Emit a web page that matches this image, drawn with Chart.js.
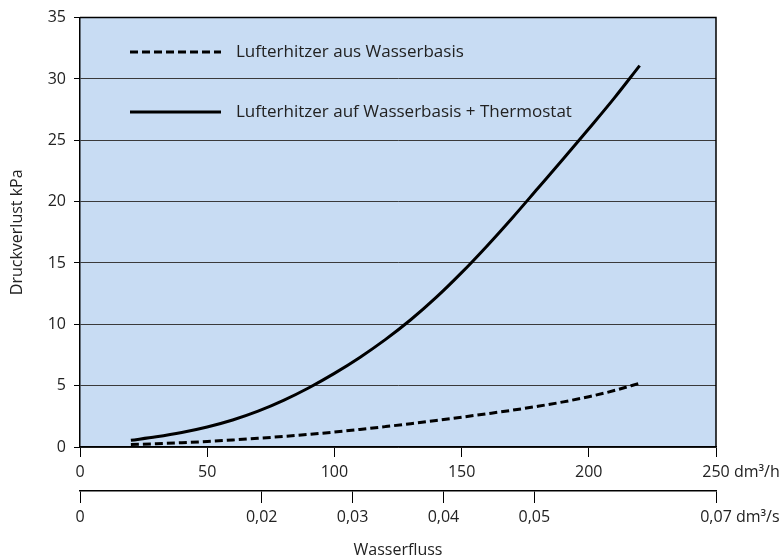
<!DOCTYPE html>
<html><head><meta charset="utf-8">
<script src="https://cdn.jsdelivr.net/npm/chart.js@4/dist/chart.umd.min.js"></script>
<style>html,body{margin:0;padding:0;background:#fff}</style>
</head><body>
<canvas id="c" width="780" height="560"></canvas>
<script>
// Wasserfluss in dm³/h
const flowValues = [20,30,40,50,60,70,80,90,100,110,120,130,140,150,160,170,180,190,200,210,220];
// Druckverlust kPa
const lossPlain = [0.2,0.27,0.35,0.45,0.57,0.71,0.86,1.03,1.22,1.43,1.66,1.9,2.16,2.43,2.71,3.0,3.32,3.68,4.1,4.6,5.2];
const lossThermostat = [0.55,0.83,1.18,1.63,2.2,2.92,3.8,4.83,6.0,7.3,8.75,10.37,12.19,14.21,16.39,18.69,21.09,23.49,25.94,28.44,31.09];
const seriesLabels = ['Lufterhitzer aus Wasserbasis','Lufterhitzer auf Wasserbasis + Thermostat'];
const flowTicksH = [0,50,100,150,200,250];
const flowTicksS = [0,0.02,0.03,0.04,0.05,0.07];
const pressureTicks = [0,5,10,15,20,25,30,35];
const unitH = 'dm³/h';
const unitS = 'dm³/s';
const yTitle = 'Druckverlust kPa';
const xTitle = 'Wasserfluss';

const FONT = 'Open Sans';
const TXT = '#222';
const FS = 16;
const tickFont = {family: FONT, size: FS};

const pts = arr => flowValues.map((x,i)=>({x, y: arr[i]}));
function fmtS(v){ return v === 0 ? '0' : v.toFixed(2).replace('.', ','); }

const bgPlugin = {
  id: 'bg',
  beforeDraw(chart){
    const {ctx, chartArea:a} = chart;
    ctx.save(); ctx.fillStyle = '#c8dcf3';
    ctx.fillRect(a.left, a.top, a.right-a.left, a.bottom-a.top);
    ctx.restore();
  },
  afterDraw(chart){
    const {ctx, chartArea:a} = chart;
    ctx.save();
    ctx.strokeStyle = '#000'; ctx.lineWidth = 1.5;
    ctx.beginPath();
    ctx.moveTo(a.left, a.top); ctx.lineTo(a.right, a.top); ctx.lineTo(a.right, a.bottom);
    ctx.stroke();
    // legend inside plot
    const rows = [52, 112];
    chart.data.datasets.forEach((ds,i)=>{
      const y = rows[i];
      ctx.strokeStyle = ds.borderColor; ctx.lineWidth = ds.borderWidth;
      ctx.setLineDash(ds.borderDash || []);
      ctx.beginPath(); ctx.moveTo(130, y); ctx.lineTo(221, y); ctx.stroke();
      ctx.setLineDash([]);
      ctx.fillStyle = TXT; ctx.font = '17px "' + FONT + '"';
      ctx.textBaseline = 'middle'; ctx.textAlign = 'left';
      ctx.fillText(ds.label, 236, y);
    });
    // units after last tick labels
    ctx.font = FS + 'px "' + FONT + '"';
    ctx.textBaseline = 'middle'; ctx.textAlign = 'left';
    ctx.fillStyle = TXT;
    const sx = chart.scales.x, s2 = chart.scales.x2;
    const lh = FS*1.2;
    const lastH = String(flowTicksH[flowTicksH.length-1]);
    let px = sx.getPixelForValue(flowTicksH[flowTicksH.length-1]) + ctx.measureText(lastH).width/2;
    ctx.fillText(' ' + unitH, px, sx.top + 10 + 6 + lh/2);
    const lastS = fmtS(flowTicksS[flowTicksS.length-1]);
    px = s2.getPixelForValue(flowTicksS[flowTicksS.length-1]) + ctx.measureText(lastS).width/2;
    ctx.fillText(' ' + unitS, px, s2.top + 12 + 5 + lh/2);
    ctx.restore();
  }
};

new Chart(document.getElementById('c'), {
  type: 'line',
  data: {
    datasets: [
      {label: seriesLabels[0], data: pts(lossPlain), borderColor: '#000', borderWidth: 3, borderDash: [8,4],
       pointRadius: 0, cubicInterpolationMode: 'monotone', fill: false},
      {label: seriesLabels[1], data: pts(lossThermostat), borderColor: '#000', borderWidth: 3,
       pointRadius: 0, cubicInterpolationMode: 'monotone', fill: false}
    ]
  },
  options: {
    responsive: false, animation: false,
    layout: {padding: {top: 17, right: 64, bottom: 0, left: 0}},
    plugins: {legend: {display: false}, tooltip: {enabled: false}},
    scales: {
      x: {
        type: 'linear', position: 'bottom', min: 0, max: 250,
        afterBuildTicks: s => { s.ticks = flowTicksH.map(v=>({value:v})); },
        afterFit: s => { s.height = 44; },
        ticks: {font: tickFont, color: TXT, padding: 6, maxRotation: 0, callback: v => String(v)},
        grid: {drawOnChartArea: false, drawTicks: true, tickLength: 10, color: '#000', lineWidth: 1},
        border: {display: true, color: '#000', width: 1.5}
      },
      x2: {
        type: 'linear', position: 'bottom', min: 0, max: 0.07,
        afterBuildTicks: s => { s.ticks = flowTicksS.map(v=>({value:v})); },
        afterFit: s => { s.height = 69; },
        ticks: {font: tickFont, color: TXT, padding: 5, maxRotation: 0, callback: v => fmtS(v)},
        grid: {drawOnChartArea: false, drawTicks: true, tickLength: 12, color: '#000', lineWidth: 1},
        border: {display: true, color: '#000', width: 1.5},
        title: {display: true, text: xTitle, color: TXT, font: {family: FONT, size: FS}, padding: {top: 0, bottom: 0}}
      },
      y: {
        type: 'linear', position: 'left', min: 0, max: 35,
        afterBuildTicks: s => { s.ticks = pressureTicks.map(v=>({value:v})); },
        afterFit: s => { s.width = 80; },
        ticks: {font: tickFont, color: TXT, padding: 8, callback: v => String(v)},
        grid: {color: '#3a3a3a', lineWidth: 1, drawTicks: true, tickLength: 6, tickColor: '#000'},
        border: {display: true, color: '#000', width: 1.5},
        title: {display: true, text: yTitle, color: TXT, font: {family: FONT, size: FS}, padding: {top: 8, bottom: 0}}
      }
    }
  },
  plugins: [bgPlugin]
});
</script>
</body></html>
